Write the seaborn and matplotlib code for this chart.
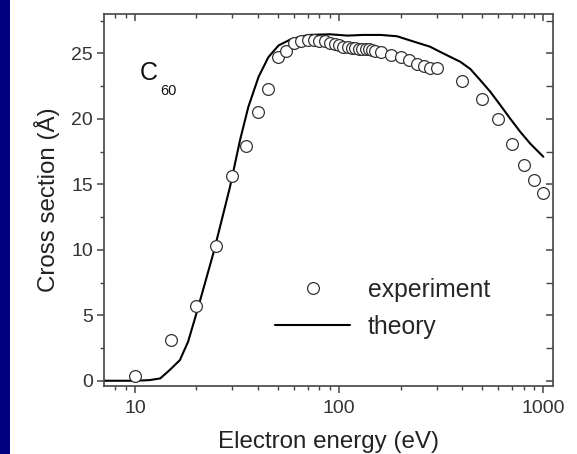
import numpy as np
import pandas as pd
import matplotlib
matplotlib.use("Agg")
import matplotlib.pyplot as plt
import seaborn as sns
from matplotlib.patches import Rectangle
from matplotlib.lines import Line2D
from matplotlib.ticker import LogLocator, MultipleLocator, NullFormatter

# experimental points (electron energy in eV, cross section in A^2)
exp_energy = [10, 15, 20, 25, 30, 35, 40, 45, 50, 55, 60, 65, 70, 75, 80, 85, 90, 95,
              100, 105, 110, 115, 120, 125, 130, 135, 140, 145, 150, 160, 180, 200,
              220, 240, 260, 280, 300, 400, 500, 600, 700, 800, 900, 1000]
exp_sigma = [0.4, 3.1, 5.7, 10.3, 15.6, 17.9, 20.5, 22.3, 24.75, 25.15, 25.75, 25.9, 26.0,
             26.0, 25.9, 25.9, 25.8, 25.7, 25.6, 25.5, 25.5, 25.4, 25.4, 25.3, 25.3,
             25.3, 25.3, 25.25, 25.2, 25.1, 24.9, 24.7, 24.5, 24.2, 24.0, 23.9, 23.85,
             22.85, 21.5, 20.0, 18.1, 16.5, 15.3, 14.35]

# theory curve
th_energy = [7, 10, 11.8, 13.3, 14.8, 16.6, 18.2, 20.0, 22.0, 24.2, 26.6, 29.2, 32.7,
             35.9, 40.3, 45.0, 50.5, 58.6, 70.8, 90, 110, 130, 160, 192, 231, 279,
             313, 392, 439, 491, 550, 615, 689, 771, 863, 1000]
th_sigma = [0.0, 0.0, 0.05, 0.18, 0.82, 1.58, 2.98, 5.14, 7.43, 9.73, 12.27, 14.8, 18.37,
            20.9, 23.2, 24.7, 25.6, 26.1, 26.4, 26.45, 26.35, 26.4, 26.4, 26.3, 25.9,
            25.5, 25.1, 24.35, 23.8, 22.95, 22.06, 21.05, 20.0, 19.0, 18.1, 17.1]

df_exp = pd.DataFrame({"E": exp_energy, "sigma": exp_sigma})
df_th = pd.DataFrame({"E": th_energy, "sigma": th_sigma})

sns.set_style("white")
plt.rcParams['font.family'] = ['Liberation Sans', 'DejaVu Sans']

fig = plt.figure(figsize=(5.77, 4.54), dpi=100)
ax = fig.add_axes([0.1802, 0.1498, 0.7782, 0.8194])
ax.set_xscale("log")

# navy strip on the left edge
fig.patches.append(Rectangle((0, 0), 10 / 577, 1, transform=fig.transFigure,
                             facecolor="#00007f", edgecolor="none", zorder=0))

sns.lineplot(data=df_th, x="E", y="sigma", ax=ax, color="black", linewidth=1.5,
             sort=False, zorder=2)
sns.scatterplot(data=df_exp, x="E", y="sigma", ax=ax, marker="o", s=72,
                facecolor="white", edgecolor="#333333", linewidth=0.9, zorder=3)

ax.set_xlim(7.05, 1115)
ax.set_ylim(-0.4, 28)

ax.xaxis.set_minor_locator(LogLocator(base=10, subs=np.arange(2, 10)))
ax.xaxis.set_minor_formatter(NullFormatter())
ax.set_xticks([10, 100, 1000])
ax.set_xticklabels(["10", "100", "1000"])
ax.yaxis.set_major_locator(MultipleLocator(5))
ax.yaxis.set_minor_locator(MultipleLocator(2.5))

for s in ax.spines.values():
    s.set_color("#444444")
    s.set_linewidth(1.2)

ax.tick_params(which="both", direction="out", bottom=True, left=True,
               colors="#444444", labelcolor="#333333", labelsize=14)
ax.tick_params(which="major", length=5, width=1.1)
ax.tick_params(which="minor", length=3, width=1.0)
ax.tick_params(axis="x", which="major", pad=5)
ax.tick_params(axis="y", which="major", pad=3)

# mirrored inward ticks on top and right
secx = ax.secondary_xaxis("top")
secx.set_xticks([10, 100, 1000])
secx.xaxis.set_minor_locator(LogLocator(base=10, subs=np.arange(2, 10)))
secx.xaxis.set_minor_formatter(NullFormatter())
secx.tick_params(which="both", direction="in", top=True, colors="#444444", labeltop=False)
secx.tick_params(which="major", length=5, width=1.1)
secx.tick_params(which="minor", length=3, width=1.0)
secy = ax.secondary_yaxis("right")
secy.yaxis.set_major_locator(MultipleLocator(5))
secy.yaxis.set_minor_locator(MultipleLocator(2.5))
secy.tick_params(which="both", direction="in", right=True, colors="#444444", labelright=False)
secy.tick_params(which="major", length=5, width=1.1)
secy.tick_params(which="minor", length=5, width=1.0)
for sec in (secx, secy):
    for s in sec.spines.values():
        s.set_visible(False)

ax.set_xlabel("Electron energy (eV)", fontsize=17.4, color="#222222", labelpad=10)
ax.set_ylabel("Cross section (Å)", fontsize=17.4, color="#222222", labelpad=8)

# C60 label
ax.text(0.08, 0.823, "C", transform=ax.transAxes, fontsize=18, color="#111111",
        ha="left", va="baseline")
ax.text(0.125, 0.782, "60", transform=ax.transAxes, fontsize=10.5, color="#111111",
        ha="left", va="baseline")

handles = [
    Line2D([], [], marker="o", linestyle="none", markersize=8.5,
           markerfacecolor="white", markeredgecolor="#333333", markeredgewidth=0.9),
    Line2D([], [], color="black", linewidth=1.5),
]
ax.legend(handles, ["experiment", "theory"], loc="upper left",
          bbox_to_anchor=(0.381, 0.29), frameon=False, fontsize=17.8,
          handlelength=3.05, handletextpad=0.7, labelspacing=0.52,
          borderpad=0, borderaxespad=0)

fig.savefig("out.png", dpi=100, facecolor="white")
